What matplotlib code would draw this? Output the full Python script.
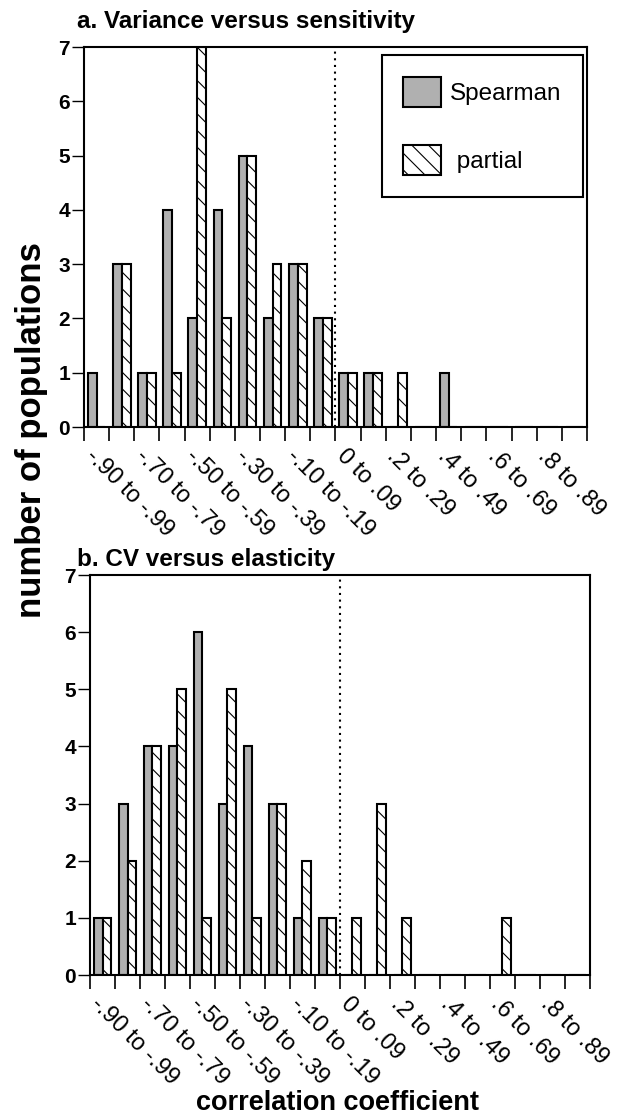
import matplotlib
matplotlib.use("Agg")
import matplotlib.pyplot as plt
import numpy as np
from matplotlib.patches import Patch

plt.rcParams['font.family'] = ['Liberation Sans', 'DejaVu Sans']
plt.rcParams['hatch.linewidth'] = 0.8

# 20 bins of correlation coefficient, from -.90 to -.99 up to .9 to .99
n_bins = 20
bin_labels = ["-.90 to -.99", "-.70 to -.79", "-.50 to -.59", "-.30 to -.39",
              "-.10 to -.19", "0 to .09", ".2 to .29", ".4 to .49",
              ".6 to .69", ".8 to .89"]

# a. Variance versus sensitivity
a_spearman = [1, 3, 1, 4, 2, 4, 5, 2, 3, 2, 1, 1, 0, 0, 1, 0, 0, 0, 0, 0]
a_partial = [0, 3, 1, 1, 7, 2, 5, 3, 3, 2, 1, 1, 1, 0, 0, 0, 0, 0, 0, 0]

# b. CV versus elasticity
b_spearman = [1, 3, 4, 4, 6, 3, 4, 3, 1, 1, 0, 0, 0, 0, 0, 0, 0, 0, 0, 0]
b_partial = [1, 2, 4, 5, 1, 5, 1, 3, 2, 1, 1, 3, 1, 0, 0, 0, 1, 0, 0, 0]

titles = ["a. Variance versus sensitivity", "b. CV versus elasticity"]

GRAY = '#b0b0b0'
BAR_W = 0.35
HATCH = '\\\\'


def draw_panel(ax, spearman, partial):
    x = np.arange(n_bins) + 0.5
    ax.bar(x - BAR_W, spearman, width=BAR_W, align='edge', color=GRAY,
           edgecolor='black', linewidth=1.5)
    ax.bar(x, partial, width=BAR_W, align='edge', color='white',
           edgecolor='black', linewidth=1.5, hatch=HATCH)

    ax.axvline(10, color='black', linestyle=(0, (1, 2.2)), linewidth=1.5)

    ax.set_xlim(0, n_bins)
    ax.set_ylim(0, 7)
    ax.set_yticks(range(8))
    ax.set_xticks(range(n_bins + 1))
    ax.set_xticklabels([])
    ax.tick_params(axis='y', direction='out', length=9, width=1, pad=1,
                   labelsize=15)
    for lab in ax.get_yticklabels():
        lab.set_fontweight('bold')
    ax.tick_params(axis='x', direction='out', length=10, width=1.2)
    for sp in ax.spines.values():
        sp.set_linewidth(1.5)

    # rotated labels, one for every other bin
    for xi, lab in zip(x[::2], bin_labels):
        ax.annotate(lab, xy=(xi, 0), xycoords=('data', 'axes fraction'),
                    xytext=(0, -13), textcoords='offset points',
                    rotation=-45, rotation_mode='anchor',
                    ha='left', va='top', fontsize=17)


fig = plt.figure(figsize=(6.19, 11.17), dpi=100)
ax_a = fig.add_axes([0.1357, 0.6177, 0.8126, 0.3402])
ax_b = fig.add_axes([0.1454, 0.1271, 0.8077, 0.3581])

draw_panel(ax_a, a_spearman, a_partial)
draw_panel(ax_b, b_spearman, b_partial)

handles = [Patch(facecolor=GRAY, edgecolor='black', linewidth=1.5),
           Patch(facecolor='white', edgecolor='black', linewidth=1.5, hatch=HATCH)]
leg = ax_a.legend(handles, ["Spearman", " partial"], loc='upper right',
                  bbox_to_anchor=(0.992, 0.979), borderaxespad=0,
                  fontsize=17.5, handlelength=1.55, handleheight=1.5,
                  labelspacing=1.6, borderpad=0.9, handletextpad=0.35,
                  fancybox=False, framealpha=1, edgecolor='black')
leg.get_frame().set_linewidth(1.5)

fig.text(77 / 619, 1 - 28 / 1117, titles[0], fontsize=17.5, fontweight='bold',
         va='baseline', ha='left')
fig.text(77 / 619, 1 - 566 / 1117, titles[1], fontsize=17.5, fontweight='bold',
         va='baseline', ha='left')

fig.text(32 / 619, 1 - 430 / 1117, "number of populations", rotation=90,
         fontsize=25, fontweight='bold', ha='center', va='center')
fig.text(337 / 619, 1 - 1103 / 1117, "correlation coefficient",
         fontsize=19.5, fontweight='bold', ha='center', va='center')

fig.savefig("out.png", dpi=100)
